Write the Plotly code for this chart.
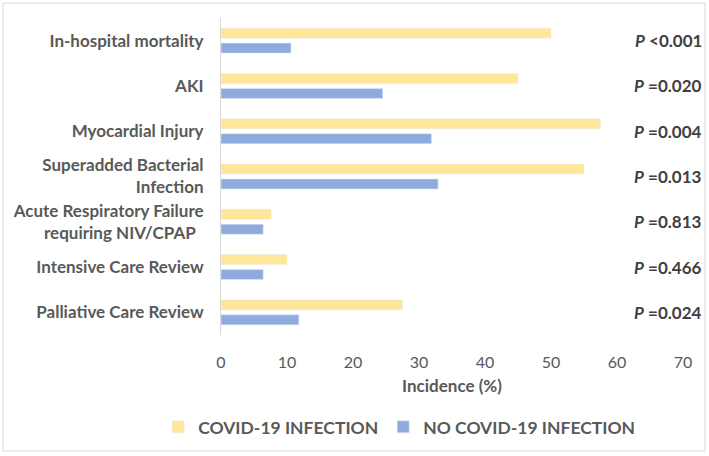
import plotly.graph_objects as go

categories = [
    "In-hospital mortality",
    "AKI",
    "Myocardial Injury",
    "Superadded Bacterial<br>Infection",
    "Acute Respiratory Failure<br>requiring NIV/CPAP\u00a0\u00a0",
    "Intensive Care Review",
    "Palliative Care Review",
]
covid = [50, 45, 57.5, 55, 7.6, 10, 27.5]
no_covid = [10.6, 24.5, 31.9, 32.9, 6.4, 6.4, 11.8]
p_values = ["<0.001", "=0.020", "=0.004", "=0.013", "=0.813", "=0.466", "=0.024"]

grey = "#595959"
font = "Lato"

fig = go.Figure()
fig.add_trace(go.Bar(y=categories, x=covid, orientation="h", name="COVID-19 INFECTION",
                     marker_color="#FFE699"))
fig.add_trace(go.Bar(y=categories, x=no_covid, orientation="h", name="NO COVID-19 INFECTION",
                     marker_color="#8FAADC"))

# p-values on the right side
for cat, p in zip(categories, p_values):
    fig.add_annotation(x=1.045, xref="paper", y=cat, yref="y", xanchor="right",
                       text="<b><i>P</i> " + p + "</b>", showarrow=False,
                       font=dict(family=font, size=17, color="#404040"))

# light frame around the whole chart
fig.add_shape(type="rect", xref="paper", yref="paper", x0=-0.472, x1=1.0476,
              y0=-0.366, y1=1.047, line=dict(color="#D9D9D9", width=1))

fig.update_layout(
    width=709, height=456,
    margin=dict(l=221, r=26, t=18, b=121, autoexpand=False),
    paper_bgcolor="white", plot_bgcolor="white",
    barmode="group", bargap=0.34, bargroupgap=0.33,
    font=dict(family=font, color=grey),
    showlegend=True,
    legend=dict(orientation="h", x=-0.136, xanchor="left",
                y=-0.29, yanchor="middle",
                font=dict(size=17.5, color=grey, family=font, weight="bold"), itemwidth=30,
                traceorder="normal"),
)
fig.update_xaxes(range=[0, 70], dtick=10, showgrid=False, zeroline=False, showline=False,
                 tickfont=dict(size=16, color=grey), ticklabelstandoff=16,
                 title=dict(text="<b>Incidence (%)</b>", font=dict(size=17, color=grey), standoff=10))
fig.update_yaxes(autorange="reversed", showgrid=False, showline=True, linecolor="#D9D9D9",
                 ticks="", ticklabelstandoff=13,
                 tickfont=dict(size=17, color=grey, weight="bold"))

# page body has a default 8px margin; drop it so the figure sits at the top-left
fig.write_html("out.html", config={"displayModeBar": False},
               post_script="document.body.style.margin='0px';")
